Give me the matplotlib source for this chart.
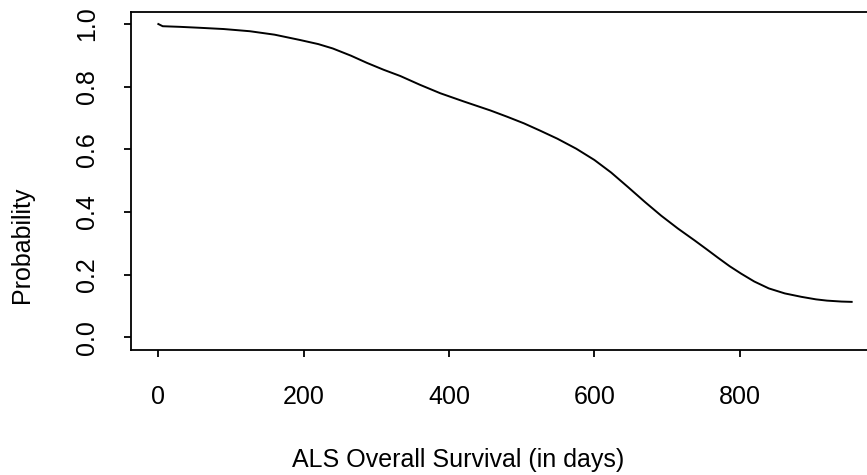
import matplotlib
matplotlib.use("Agg")
import matplotlib.pyplot as plt

# Survival curve
days = [0, 6, 30, 57, 90, 126, 160, 195, 220, 240, 265, 287, 310, 333,
        360, 388, 420, 457, 480, 503, 525, 549, 575, 600, 623, 646, 670,
        692, 715, 738, 755, 770, 786, 802, 820, 840, 862, 885, 905, 920,
        940, 954]
prob = [1.0, 0.993, 0.991, 0.988, 0.984, 0.977, 0.966, 0.949, 0.936,
        0.922, 0.899, 0.876, 0.854, 0.834, 0.806, 0.779, 0.753, 0.724,
        0.704, 0.683, 0.660, 0.634, 0.602, 0.566, 0.526, 0.480, 0.431,
        0.388, 0.347, 0.309, 0.280, 0.254, 0.227, 0.203, 0.178, 0.156,
        0.140, 0.129, 0.121, 0.117, 0.114, 0.113]

xticks = [0, 200, 400, 600, 800]
yticks = [0.0, 0.2, 0.4, 0.6, 0.8, 1.0]
ytick_labels = ["0.0", "0.2", "0.4", "0.6", "0.8", "1.0"]
xlabel = "ALS Overall Survival (in days)"
ylabel = "Probability"

plt.rcParams['font.family'] = ['Liberation Sans', 'DejaVu Sans']

W, H = 867, 475
fig = plt.figure(figsize=(W / 100, H / 100), dpi=100)
left_px, right_px, top_px, bot_px = 130.6, 879.4, 11.5, 349.8
ax = fig.add_axes([left_px / W, (H - bot_px) / H,
                   (right_px - left_px) / W, (bot_px - top_px) / H])

ax.plot(days, prob, color='black', linewidth=1.4, solid_joinstyle='round')

xr = max(days) - min(days)
ax.set_xlim(min(days) - 0.04 * xr, max(days) + 0.04 * xr)
ax.set_ylim(-0.04, 1.04)

for s in ax.spines.values():
    s.set_linewidth(1.3)
    s.set_color('black')

ax.set_xticks(xticks)
ax.set_xticklabels([str(t) for t in xticks])
ax.set_yticks(yticks)
ax.set_yticklabels(ytick_labels, rotation=90, va='center')
ax.tick_params(axis='both', direction='out', length=5, width=1.3,
               labelsize=18, colors='black')
ax.tick_params(axis='x', pad=20)
ax.tick_params(axis='y', pad=18)

ax.set_xlabel(xlabel, fontsize=18)
ax.set_ylabel(ylabel, fontsize=18)
ax.xaxis.label.set_va('center')
ax.yaxis.label.set_va('center')
ax.xaxis.set_label_coords((458 - left_px) / (right_px - left_px),
                          -(460 - bot_px) / (bot_px - top_px))
ax.yaxis.set_label_coords(-(left_px - 22) / (right_px - left_px),
                          (bot_px - 245) / (bot_px - top_px))

fig.savefig("out.png", dpi=100)
